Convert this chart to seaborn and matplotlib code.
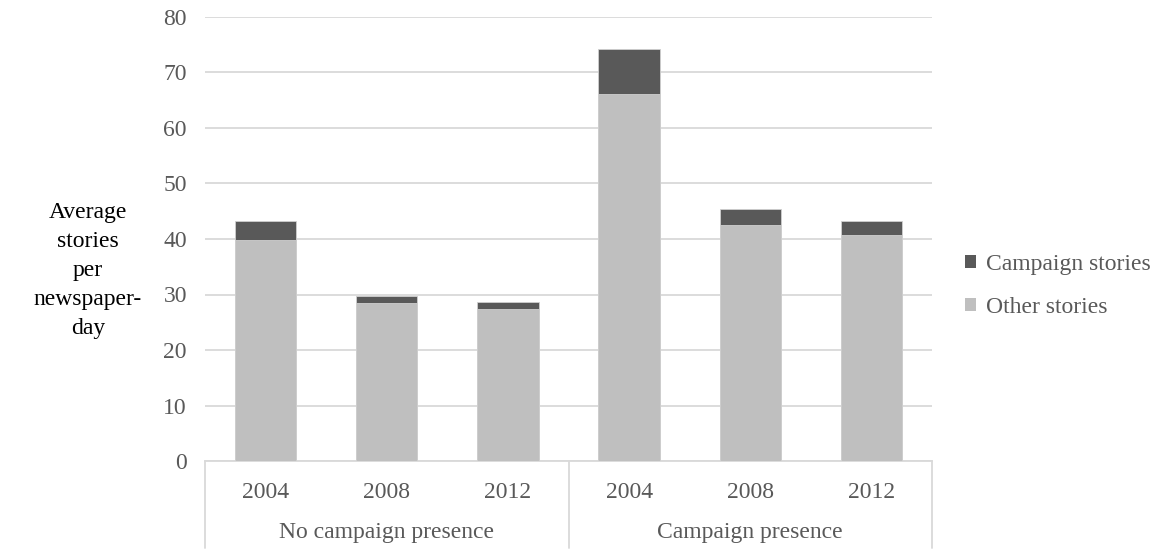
import matplotlib
matplotlib.use("Agg")
import matplotlib.pyplot as plt
from matplotlib.patches import Patch
import seaborn as sns
import pandas as pd

groups = ["No campaign presence", "Campaign presence"]
years = ["2004", "2008", "2012"]
other_stories = [39.9, 28.5, 27.4, 66.2, 42.6, 40.8]
campaign_stories = [3.3, 1.2, 1.2, 8.0, 2.8, 2.5]
y_ticks = [0, 10, 20, 30, 40, 50, 60, 70, 80]

sns.set_theme(style="white")
plt.rcParams["font.family"] = ["Liberation Serif", "DejaVu Serif"]

TXT = "#595959"
DARK = "#595959"
LIGHT = "#BFBFBF"
GRID = "#D9D9D9"
FS = 17

keys = [f"{g}|{y}" for g in groups for y in years]
df = pd.DataFrame({
    "key": keys,
    "other": other_stories,
    "total": [o + c for o, c in zip(other_stories, campaign_stories)],
})

fig = plt.figure(figsize=(11.58, 5.5), dpi=100)
ax = fig.add_axes([205 / 1158, 1 - 461 / 550, (932 - 205) / 1158, (461 - 17) / 550])

sns.barplot(data=df, x="key", y="total", order=keys, color=DARK, width=0.505,
            saturation=1, ax=ax, zorder=2, edgecolor="#D0D0D0", linewidth=0.6)
sns.barplot(data=df, x="key", y="other", order=keys, color=LIGHT, width=0.505,
            saturation=1, ax=ax, zorder=3, edgecolor="#D0D0D0", linewidth=0.6)

ax.set_xlim(-0.5, 5.5)
ax.set_ylim(0, 80)
ax.set_yticks(y_ticks)
ax.set_yticklabels([str(t) for t in y_ticks], fontsize=FS, color=TXT)
ax.set_xticks(range(6))
ax.set_xticklabels([k.split("|")[1] for k in keys], fontsize=FS, color=TXT)
ax.tick_params(axis="y", length=0, pad=13)
ax.tick_params(axis="x", length=0, pad=15)
ax.set_xlabel("")
ax.set_ylabel("")
ax.yaxis.grid(True, color=GRID, linewidth=1.3, zorder=0)
ax.set_axisbelow(True)
for s in ["top", "right", "left"]:
    ax.spines[s].set_visible(False)
ax.spines["bottom"].set_color(GRID)
ax.spines["bottom"].set_linewidth(1.3)

# group separators below axis
trans = ax.get_xaxis_transform()
for xpos in [-0.5, 2.5, 5.5]:
    ax.plot([xpos, xpos], [0, -0.197], transform=trans, color=GRID, lw=1.3,
            clip_on=False)
for i, g in enumerate(groups):
    ax.text(1 + 3 * i, -0.162, g, transform=trans, ha="center", va="center",
            fontsize=FS, color=TXT)

fig.text(88 / 1158, 1 - 270 / 550, "Average\nstories\nper\nnewspaper-\nday",
         ha="center", va="center", fontsize=FS, color="#000000", linespacing=1.5)

handles = [Patch(facecolor=DARK, edgecolor="none", label="Campaign stories"),
           Patch(facecolor=LIGHT, edgecolor="none", label="Other stories")]
fig.legend(handles=handles, loc="center left", bbox_to_anchor=(944 / 1158, 1 - 286 / 550),
           frameon=False, fontsize=FS, labelcolor=TXT, handlelength=0.45,
           handleheight=0.45, handletextpad=0.45, labelspacing=0.95)

fig.savefig("out.png", dpi=100)
